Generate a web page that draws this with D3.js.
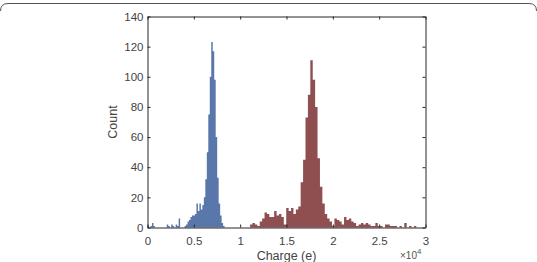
<!DOCTYPE html>
<html>
<head>
<meta charset="utf-8">
<script src="https://cdn.jsdelivr.net/npm/d3@7"></script>
<style>
  body { margin: 0; background: #fff; }
  svg text { font-family: "Liberation Sans", Arial, sans-serif; }
</style>
</head>
<body>
<div id="chart"></div>
<script>
// charge histograms, x in units of 1e4 e
var blueStart = 0, blueWidth = 0.016;
var blueCounts = [1, 0, 1, 3, 1, 0, 0, 0, 0, 0, 0, 0, 0, 2, 1, 0, 2, 1, 0, 2,
                  1, 6, 0, 0, 0, 1, 2, 4, 5, 7, 8, 8, 9, 16, 11, 16, 12, 15, 20, 32,
                  50, 75, 100, 123, 117, 98, 60, 33, 16, 8, 3, 1];

var redStart = 1.107, redWidth = 0.026;
var redCounts = [2, 3, 2, 1, 4, 6, 10, 9, 7, 7, 11, 8, 9, 7, 2, 13, 11, 13, 9, 12,
                 14, 30, 45, 73, 88, 111, 98, 80, 46, 27, 16, 9, 6, 4, 1, 6, 5, 4, 2, 7,
                 5, 6, 4, 3, 1, 2, 3, 2, 3, 2, 1, 1, 3, 1, 1, 0, 2, 2, 1, 1,
                 1, 0, 1, 0, 3, 0, 1, 0, 1, 0];

var xTicks = [0, 0.5, 1, 1.5, 2, 2.5, 3];
var yTicks = [0, 20, 40, 60, 80, 100, 120, 140];

var W = 537, H = 262;
var svg = d3.select("#chart").append("svg")
    .attr("width", W)
    .attr("height", H);

// frame of the figure panel
svg.append("path")
    .attr("d", "M0.5,11 Q0.5,3.5 8,3.5 H529 Q536.5,3.5 536.5,11")
    .attr("fill", "none")
    .attr("stroke", "#555")
    .attr("stroke-width", 1);

var x = d3.scaleLinear().domain([0, 3]).range([147.5, 425.5]);
var y = d3.scaleLinear().domain([0, 140]).range([227.5, 16.5]);

// each histogram drawn as one stepped area, so bins have no seams
function hist(counts, start, w, color) {
    var pts = counts.map(function (c, i) { return [start + i * w, c]; });
    pts.push([start + counts.length * w, 0]);
    var area = d3.area()
        .curve(d3.curveStepAfter)
        .x(function (d) { return x(d[0]); })
        .y0(y(0))
        .y1(function (d) { return y(d[1]); });
    svg.append("path")
        .datum(pts)
        .attr("d", area)
        .attr("fill", color);
}

hist(blueCounts, blueStart, blueWidth, "#5977ab");
hist(redCounts, redStart, redWidth, "#8f4e50");

//Axes
var axisColor = "#262626";
function style(g) {
    g.select(".domain").attr("stroke", axisColor);
    g.selectAll(".tick line").attr("stroke", axisColor);
    g.selectAll(".tick text").attr("fill", "#444").style("font-size", "11.5px");
}

svg.append("g")
    .attr("transform", "translate(0,227.5)")
    .call(d3.axisBottom(x).tickValues(xTicks).tickSizeInner(-3).tickSizeOuter(0)
        .tickPadding(9).tickFormat(function (d) { return String(d); }))
    .call(style);

svg.append("g")
    .attr("transform", "translate(0,16.5)")
    .call(d3.axisTop(x).tickValues(xTicks).tickSizeInner(-3).tickSizeOuter(0)
        .tickFormat(""))
    .call(style);

svg.append("g")
    .attr("transform", "translate(147.5,0)")
    .call(d3.axisLeft(y).tickValues(yTicks).tickSizeInner(-3).tickSizeOuter(0)
        .tickPadding(4))
    .call(style);

svg.append("g")
    .attr("transform", "translate(425.5,0)")
    .call(d3.axisRight(y).tickValues(yTicks).tickSizeInner(-3).tickSizeOuter(0)
        .tickFormat(""))
    .call(style);

//Axis labels
svg.append("text")
    .attr("x", 286.5)
    .attr("y", 260)
    .attr("text-anchor", "middle")
    .attr("fill", "#444")
    .style("font-size", "12.5px")
    .text("Charge (e)");

svg.append("text")
    .attr("transform", "translate(117,122) rotate(-90)")
    .attr("text-anchor", "middle")
    .attr("fill", "#444")
    .style("font-size", "12.5px")
    .text("Count");

// exponent label
var ex = svg.append("text")
    .attr("x", 400)
    .attr("y", 259)
    .attr("fill", "#555")
    .style("font-size", "10px");
ex.append("tspan").text("\u00d710");
ex.append("tspan").attr("dy", -5).style("font-size", "8px").text("4");
</script>
</body>
</html>
